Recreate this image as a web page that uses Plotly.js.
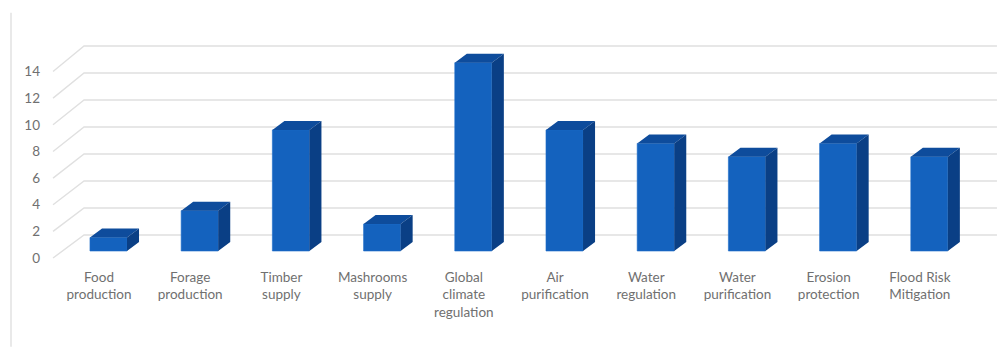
<!DOCTYPE html>
<html>
<head>
<meta charset="utf-8">
<script src="https://cdn.plot.ly/plotly-3.0.1.min.js"></script>
<style>html,body{margin:0;padding:0;background:#fff}#chart{width:1008px;height:347px}</style>
</head>
<body>
<div id="chart"></div>
<script>
// Ecosystem service counts
const categories = ["Food<br>production", "Forage<br>production", "Timber<br>supply", "Mashrooms<br>supply",
  "Global<br>climate<br>regulation", "Air<br>purification", "Water<br>regulation", "Water<br>purification",
  "Erosion<br>protection", "Flood Risk<br>Mitigation"];
const counts = [1, 3, 9, 2, 14, 9, 8, 7, 8, 7];
const gridValues = [0, 2, 4, 6, 8, 10, 12, 14];

// Pseudo-3D geometry, in axis units
const slots = categories.map((_, i) => i);
const barShift = 0.104, barWidth = 0.406;
const barDepthX = 0.132, barDepthY = 0.67;
const wallLeft = -0.504, wallBack = -0.164, wallRight = 9.846;
const wallDepthY = 1.727, wallScale = 1.0135;

// Chart wall: a slanted floor-to-back line and a back line for every tick
const gridX = [], gridY = [];
gridValues.forEach(v => {
  const backY = v * wallScale + wallDepthY;
  gridX.push(wallLeft, wallBack, wallRight, null);
  gridY.push(v, backY, backY, null);
});

// Top and side faces of each bar
const topX = [], topY = [], sideX = [], sideY = [];
slots.forEach((s, i) => {
  const l = s + barShift - barWidth / 2, r = s + barShift + barWidth / 2, v = counts[i];
  topX.push(l, r, r + barDepthX, l + barDepthX, l, null);
  topY.push(v, v, v + barDepthY, v + barDepthY, v, null);
  sideX.push(r, r + barDepthX, r + barDepthX, r, r, null);
  sideY.push(0, barDepthY, v + barDepthY, v, 0, null);
});

const labelFont = {family: "Lato, 'Open Sans', sans-serif", size: 13.5, color: "#707070"};

const traces = [
  {type: "scatter", mode: "lines", x: gridX, y: gridY, xaxis: "x", yaxis: "y",
   line: {color: "#e0e0e0", width: 1.4}, hoverinfo: "skip", showlegend: false},
  {type: "bar", x: slots.map(s => s + barShift), y: counts, width: barWidth, xaxis: "x", yaxis: "y2",
   marker: {color: "#1462be", line: {color: "#1c6cc9", width: 0.6}}, showlegend: false},
  {type: "scatter", mode: "lines", x: topX, y: topY, xaxis: "x", yaxis: "y2", fill: "toself",
   fillcolor: "#0e4c9c", line: {width: 0, color: "#0e4c9c"}, hoverinfo: "skip", showlegend: false},
  {type: "scatter", mode: "lines", x: sideX, y: sideY, xaxis: "x", yaxis: "y2", fill: "toself",
   fillcolor: "#0a3f85", line: {width: 0, color: "#0a3f85"}, hoverinfo: "skip", showlegend: false}
];

const layout = {
  width: 1008, height: 347,
  margin: {l: 44, r: 8, t: 20, b: 85},
  paper_bgcolor: "#fff", plot_bgcolor: "rgba(0,0,0,0)",
  showlegend: false, bargap: 0,
  xaxis: {range: [-0.603, 9.879], tickmode: "array", tickvals: slots, ticktext: categories,
    tickfont: labelFont, showgrid: false, zeroline: false, showline: false, ticks: "", ticklabelstandoff: 5},
  yaxis: {range: [-0.3, 17.868], tickmode: "array", tickvals: gridValues, tickfont: labelFont,
    showgrid: false, zeroline: false, showline: false, ticks: "", ticklabelstandoff: 3},
  yaxis2: {range: [-0.818, 17.175], overlaying: "y", visible: false, fixedrange: true},
  // Thin rule down the left side of the panel
  shapes: [{type: "line", xref: "paper", yref: "paper", x0: -0.0345, x1: -0.0345, y0: 1.03, y1: -0.35,
    line: {color: "#e2e2e2", width: 1.5}}]
};

Plotly.newPlot("chart", traces, layout, {displayModeBar: false, staticPlot: true});
</script>
</body>
</html>
